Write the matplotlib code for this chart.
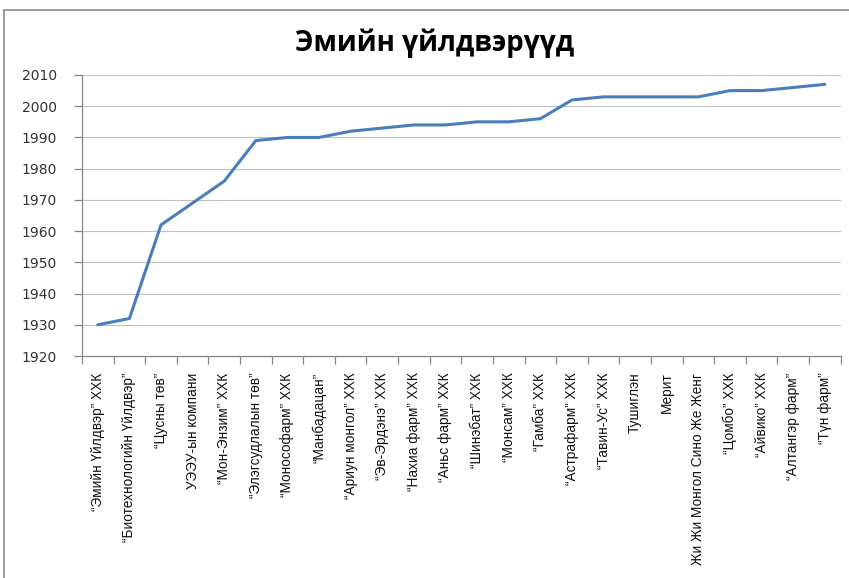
import matplotlib
matplotlib.use("Agg")
import matplotlib.pyplot as plt
from matplotlib.lines import Line2D
import numpy as np

companies = [
    "\u201cЭмийн Үйлдвэр\u201d ХХК",
    "\u201cБиотехнологийн Үйлдвэр\u201d",
    "\u201cЦусны төв\u201d",
    "УЭЭУ-ын компани",
    "\u201cМон-Энзим\u201d ХХК",
    "\u201cЭлэгсудлалын төв\u201d",
    "\u201cМонософарм\u201d ХХК",
    "\u201cМанбадацан\u201d",
    "\u201cАриун монгол\u201d ХХК",
    "\u201cЭв-Эрдэнэ\u201d ХХК",
    "\u201cНахиа фарм\u201d ХХК",
    "\u201cАньс фарм\u201d ХХК",
    "\u201cШинэбат\u201d ХХК",
    "\u201cМонсам\u201d ХХК",
    "\u201cГамба\u201d ХХК",
    "\u201cАстрафарм\u201d ХХК",
    "\u201cТавин-Ус\u201d ХХК",
    "Тушиглэн",
    "Мерит",
    "Жи Жи Монгол Сино Же Жeнг",
    "\u201cЦомбо\u201d ХХК",
    "\u201cАйвико\u201d ХХК",
    "\u201cАлтангэр фарм\u201d",
    "\u201cТүн фарм\u201d",
]
years = [1930, 1932, 1962, 1969, 1976, 1989, 1990, 1990, 1992, 1993, 1994, 1994,
         1995, 1995, 1996, 2002, 2003, 2003, 2003, 2003, 2005, 2005, 2006, 2007]
yticks = [1920, 1930, 1940, 1950, 1960, 1970, 1980, 1990, 2000, 2010]
title = "Эмийн үйлдвэрүүд"

W, H = 849, 578
fig = plt.figure(figsize=(W / 100, H / 100), dpi=100)
ax = fig.add_axes([82 / W, 1 - 356 / H, (840.6 - 82) / W, (356 - 75) / H])

x = np.arange(len(companies))
ax.plot(x, years, color="#4a7ebb", linewidth=2.2, solid_capstyle="round", zorder=3)

ax.set_xlim(-0.5, len(companies) - 0.5)
ax.set_ylim(yticks[0], yticks[-1])
ax.set_yticks(yticks)
ax.set_yticklabels([str(v) for v in yticks], fontsize=10, family="DejaVu Sans", color="#333333")
ax.yaxis.grid(True, color="#c2c2c2", linewidth=0.8)
ax.set_axisbelow(True)

ax.set_xticks(x)
ax.set_xticklabels(companies, rotation=90, fontsize=9.8, family="Liberation Sans",
                   color="#111111", va="top", ha="center")
ax.tick_params(axis="x", which="major", length=0, pad=12)
ax.set_xticks(np.arange(-0.5, len(companies) + 0.5, 1), minor=True)
ax.tick_params(axis="x", which="minor", length=6, color="#868686", width=0.9)
ax.tick_params(axis="y", which="major", length=6, color="#868686", width=0.9, pad=12)

for s in ["top", "right"]:
    ax.spines[s].set_visible(False)
for s in ["left", "bottom"]:
    ax.spines[s].set_color("#868686")
    ax.spines[s].set_linewidth(0.9)

fig.text(435 / W, 1 - 43 / H, title, ha="center", va="center", fontsize=20,
         fontweight="bold", family="Open Sans")

# chart area border (left and top)
fig.add_artist(Line2D([3.5 / W, 3.5 / W], [0, 1 - 10 / H], transform=fig.transFigure,
                      color="#8c8c8c", linewidth=1.2))
fig.add_artist(Line2D([3.5 / W, 1], [1 - 10 / H, 1 - 10 / H], transform=fig.transFigure,
                      color="#8c8c8c", linewidth=1.2))

fig.savefig("out.png", dpi=100)
